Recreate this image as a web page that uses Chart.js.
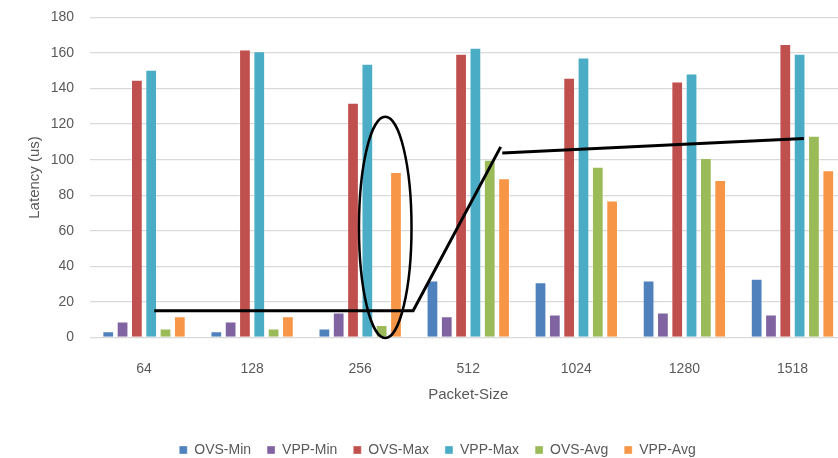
<!DOCTYPE html>
<html>
<head>
<meta charset="utf-8">
<script src="https://cdn.jsdelivr.net/npm/chart.js@4/dist/chart.umd.min.js"></script>
<style>
  html, body { margin: 0; padding: 0; background: #fff; overflow: hidden; }
  #wrap { position: relative; width: 875px; height: 474px; margin-top: -7px; }
</style>
</head>
<body>
<div id="wrap"><canvas id="latency-chart"></canvas></div>
<script>
// packet sizes on the x axis
var sizes = ['64', '128', '256', '512', '1024', '1280', '1518'];

// latency values (us)
var ovsMin = [3.5, 3.5, 5, 32, 31, 32, 33];
var vppMin = [9, 9, 14, 12, 13, 14, 13];
var ovsMax = [145, 162, 132, 159.5, 146, 144, 165];
var vppMax = [150.5, 161, 154, 163, 157.5, 148.5, 159.5];
var ovsAvg = [5, 5, 7, 100, 96, 101, 113.5];
var vppAvg = [12, 12, 93, 89.5, 77, 88.5, 94];

var yTicks = [0, 20, 40, 60, 80, 100, 120, 140, 160, 180];

// hand drawn marks on top (category index, value)
var callLine1 = [[0.095, 15], [2.49, 15], [3.30, 107.2]];
var callLine2 = [[3.315, 103.8], [6.106, 111.9]];
var ellipseMark = { x: 2.232, y: 61.9, rx: 0.243, ry: 62.2 };

var txtColor = '#595959';
var fontName = '"Liberation Sans", Arial, sans-serif';

// draws the black lines and ellipse through the chart scales
const markPlugin = {
    id: 'marks',
    afterDatasetsDraw(chart) {
        var ctx = chart.ctx;
        var xs = chart.scales.x, ys = chart.scales.y;
        ctx.save();
        ctx.strokeStyle = '#000';
        ctx.lineWidth = 3;
        ctx.lineJoin = 'miter';
        [callLine1, callLine2].forEach(pts => {
            ctx.beginPath();
            pts.forEach((p, i) => {
                var px = xs.getPixelForValue(p[0]);
                var py = ys.getPixelForValue(p[1]);
                if (i == 0) ctx.moveTo(px, py); else ctx.lineTo(px, py);
            });
            ctx.stroke();
        });
        var cx = xs.getPixelForValue(ellipseMark.x);
        var cy = ys.getPixelForValue(ellipseMark.y);
        var rx = xs.getPixelForValue(ellipseMark.x + ellipseMark.rx) - cx;
        var ry = cy - ys.getPixelForValue(ellipseMark.y + ellipseMark.ry);
        ctx.lineWidth = 2.5;
        ctx.beginPath();
        ctx.ellipse(cx, cy, rx, ry, 0, 0, Math.PI * 2);
        ctx.stroke();
        ctx.restore();
    }
};

function makeSet(label, data, color) {
    return {
        label: label,
        data: data,
        backgroundColor: color,
        borderColor: 'rgba(255,255,255,0.35)',
        borderWidth: 1,
        barPercentage: 0.82,
        categoryPercentage: 0.795
    };
}

window.onload = function() {
    var ctx = document.getElementById('latency-chart').getContext('2d');
    new Chart(ctx, {
        type: 'bar',
        data: {
            labels: sizes,
            datasets: [
                makeSet('OVS-Min', ovsMin, '#4F81BD'),
                makeSet('VPP-Min', vppMin, '#8064A2'),
                makeSet('OVS-Max', ovsMax, '#C0504D'),
                makeSet('VPP-Max', vppMax, '#4BACC6'),
                makeSet('OVS-Avg', ovsAvg, '#9BBB59'),
                makeSet('VPP-Avg', vppAvg, '#F79646')
            ]
        },
        options: {
            responsive: true,
            maintainAspectRatio: false,
            animation: false,
            layout: { padding: { top: 10, left: 0, right: 0, bottom: 0 } },
            plugins: {
                tooltip: { enabled: false },
                legend: {
                    position: 'bottom',
                    labels: {
                        boxWidth: 8,
                        boxHeight: 8,
                        padding: 16,
                        color: txtColor,
                        font: { family: fontName, size: 14 }
                    }
                }
            },
            scales: {
                x: {
                    grid: { display: false },
                    border: { display: false },
                    ticks: { color: txtColor, padding: 15, font: { family: fontName, size: 14 } },
                    title: {
                        display: true,
                        text: 'Packet-Size',
                        color: txtColor,
                        font: { family: fontName, size: 15 },
                        padding: { top: 0, bottom: 23 }
                    },
                    afterFit: function(s) { s.height = 89.5; }
                },
                y: {
                    min: 0,
                    max: 180,
                    afterBuildTicks: function(s) { s.ticks = yTicks.map(v => ({ value: v })); },
                    grid: { color: '#d9d9d9', lineWidth: 1.3, drawTicks: false },
                    border: { display: false },
                    ticks: { color: txtColor, padding: 16, font: { family: fontName, size: 14 } },
                    title: {
                        display: true,
                        text: 'Latency (us)',
                        color: txtColor,
                        font: { family: fontName, size: 15 },
                        padding: { top: 26, bottom: 0 }
                    },
                    afterFit: function(s) { s.width = 90; }
                },
                // empty right side so the legend centres like the original
                yR: {
                    position: 'right',
                    grid: { display: false },
                    border: { display: false },
                    ticks: { display: false },
                    afterFit: function(s) { s.width = 28.5; }
                }
            }
        },
        plugins: [markPlugin]
    });
};
</script>
</body>
</html>
